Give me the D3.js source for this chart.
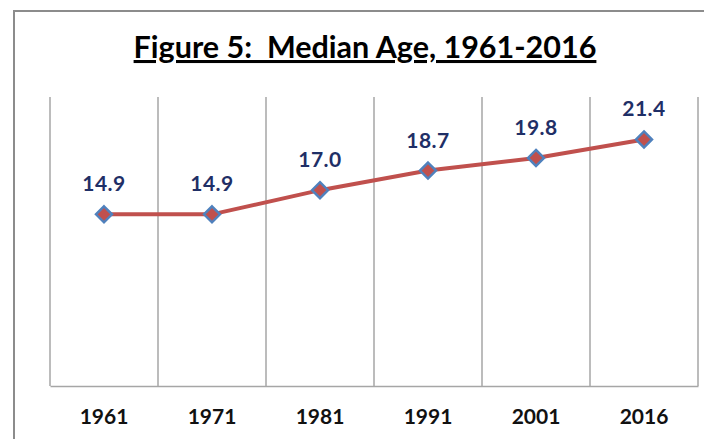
<!DOCTYPE html>
<html><head><meta charset="utf-8">
<script src="https://cdn.jsdelivr.net/npm/d3@7"></script>
<style>body{margin:0;background:#fff;}svg{display:block;}</style>
</head><body>
<script>
const years = ["1961","1971","1981","1991","2001","2016"];
const medianAge = [14.9, 14.9, 17.0, 18.7, 19.8, 21.4];
const titleText = "Figure 5:  Median Age, 1961-2016";

const W = 704, H = 439;
const svg = d3.select("body").append("svg").attr("width", W).attr("height", H);
svg.append("rect").attr("width", W).attr("height", H).attr("fill", "#fff");

// chart frame
svg.append("path").attr("d", `M14,${H+5} L14,11 L${W+5},11`).attr("fill","none")
  .attr("stroke","#8c8c8c").attr("stroke-width",2);

const left = 50, right = 698, bottom = 386;
const x = d3.scaleBand().domain(years).range([left, right]);
const y = d3.scaleLinear().domain([0, 25]).range([bottom, bottom - 25*11.52]);

// title
svg.append("text").attr("x", 365).attr("y", 58).attr("text-anchor","middle")
  .style("white-space","pre")
  .attr("font-family","Lato, 'Open Sans', sans-serif").attr("font-weight","bold")
  .attr("font-size", 30.5).attr("fill","#000").attr("text-decoration","underline")
  .text(titleText);

// vertical gridlines (category boundaries)
const bounds = years.map(d => x(d)).concat([right]);
svg.append("g").selectAll("line").data(bounds).join("line")
  .attr("x1", d=>d).attr("x2", d=>d).attr("y1", 97).attr("y2", bottom)
  .attr("stroke","#a6a6a6").attr("stroke-width",1.5);

// x axis
const xAxis = d3.axisBottom(x).tickSize(0).tickPadding(23);
const gx = svg.append("g").attr("transform",`translate(0,${bottom})`).call(xAxis);
gx.select(".domain").attr("stroke","#a6a6a6").attr("stroke-width",1.5);
gx.selectAll("text").attr("font-family","Lato, 'Open Sans', sans-serif")
  .attr("font-weight","bold").attr("font-size",21).attr("fill","#111");

const cx = d => x(d) + x.bandwidth()/2;
const data = years.map((d,i)=>({year:d, v:medianAge[i]}));

// line
svg.append("path").datum(data)
  .attr("d", d3.line().x(d=>cx(d.year)).y(d=>y(d.v)))
  .attr("fill","none").attr("stroke","#C0504D").attr("stroke-width",4);

// markers
svg.append("g").selectAll("path").data(data).join("path")
  .attr("transform", d=>`translate(${cx(d.year)},${y(d.v)})`)
  .attr("d", d3.symbol().type(d3.symbolDiamond2).size(165))
  .attr("fill","#C0504D").attr("stroke","#4F81BD").attr("stroke-width",2.4);

// data labels
svg.append("g").selectAll("text").data(data).join("text")
  .attr("x", d=>cx(d.year)).attr("y", d=>y(d.v)-23)
  .attr("text-anchor","middle")
  .attr("font-family","Lato, 'Open Sans', sans-serif").attr("font-weight","bold")
  .attr("font-size",21).attr("letter-spacing",0.5).attr("fill","#1F2F66")
  .text(d=>d.v.toFixed(1));
</script>
</body></html>
